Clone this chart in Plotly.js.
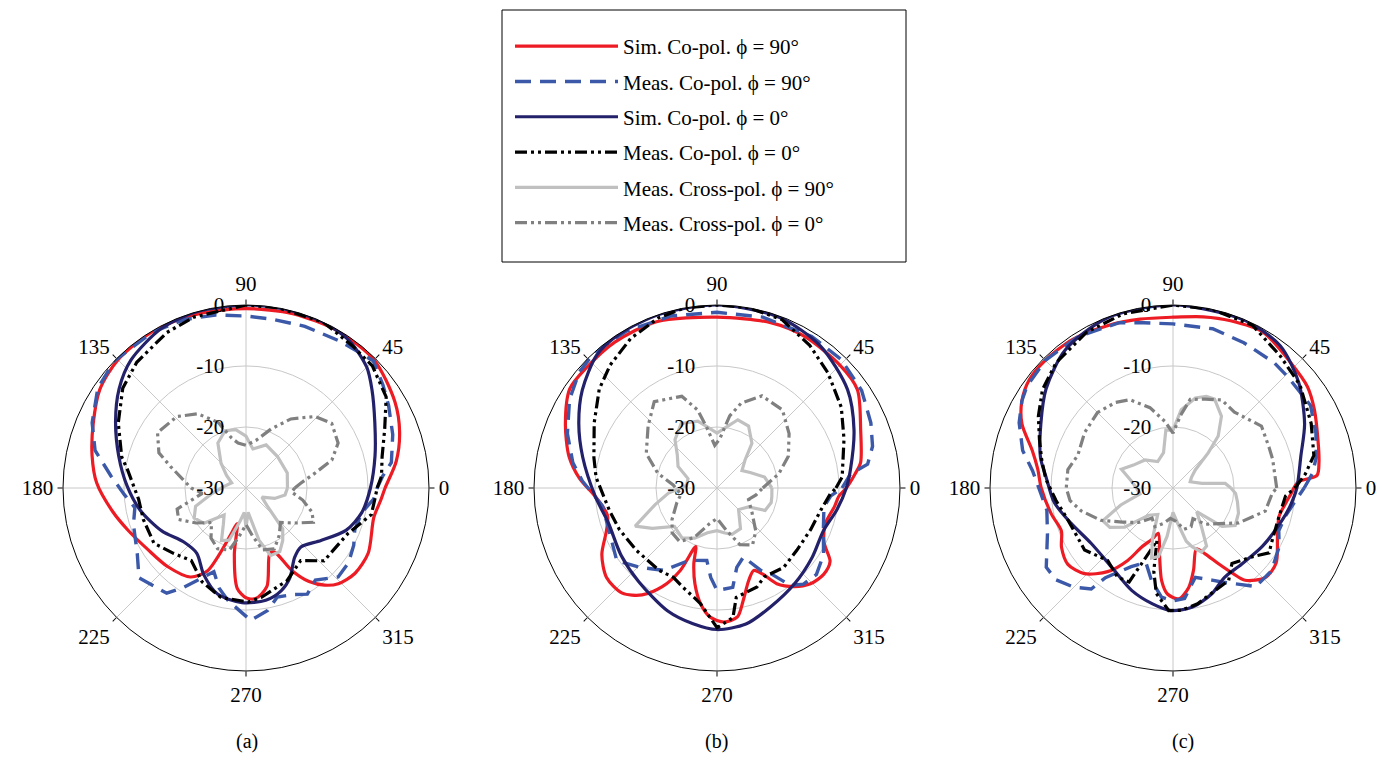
<!DOCTYPE html>
<html><head><meta charset="utf-8">
<script src="https://cdn.plot.ly/plotly-3.0.1.min.js"></script>
<style>html,body{margin:0;padding:0;background:#fff}#chart{width:1392px;height:764px}</style>
</head><body><div id="chart"></div>
<script>
// ---------- labels ----------
const SERIES_NAMES = ["Sim. Co-pol. \u03D5 = 90\u00B0", "Meas. Co-pol. \u03D5 = 90\u00B0", "Sim. Co-pol. \u03D5 = 0\u00B0",
  "Meas. Co-pol. \u03D5 = 0\u00B0", "Meas. Cross-pol. \u03D5 = 90\u00B0", "Meas. Cross-pol. \u03D5 = 0\u00B0"];
const PANEL_LABELS = ["(a)", "(b)", "(c)"];
const ANGLE_TICKS = [0, 45, 90, 135, 180, 225, 270, 315];
const ANGLE_LABELS = ["0", "45", "90", "135", "180", "225", "270", "315"];
const RADIAL_TICKS = [0, -10, -20, -30];
const RADIAL_LABELS = ["0", "-10", "-20", "-30"];

// ---------- panel (a) ----------
const A_S90_T = [0,10,20,30,45,60,75,90,105,120,135,146,157,168,178,190,200,212,225,238,245,252,256,260,265,270,275,282,290,294,299,304,309,314,322,332,347,355];
const A_S90_R = [-7.2,-5,-3.2,-1.8,-0.3,-0.2,-0.4,-0.6,-0.4,-0.1,-0.3,-1.1,-2.8,-4.2,-5.5,-7.8,-9.5,-11,-11.8,-12.8,-15,-22,-24,-19,-13.5,-12,-11.8,-13.5,-18.6,-18.5,-14.6,-11.5,-9.5,-8.2,-7.3,-7.3,-8.5,-7.8];
const A_M90_T = [0,5,10,20,30,37,45,57,70,81,90,100,110,121,136,146,157,166,175,183,190,198,211,220,233,238,249,255,261,272,280,286,293,300,307,316,324,332,339,348,355];
const A_M90_R = [-8.5,-7.5,-5.8,-4.4,-3.0,-1.9,-0.5,-1.4,-1.8,-2,-1.8,-1.2,-0.6,-0.2,0,-0.7,-2.6,-4.5,-7.8,-10,-11.5,-10.6,-9.2,-7.1,-8.4,-10.8,-15.3,-13,-11.3,-8.3,-9.6,-11.4,-11,-9.9,-11.1,-9,-9.2,-10,-10.9,-10.6,-9];
const A_S0_T = [0,14,27,38,45,55,65,78,90,106,118,132,142,153,166,179,192,207,221,233,244,255,268,280,289,296,305,313,325,337,348];
const A_S0_R = [-9.6,-8.2,-6.3,-3.8,-2.0,-0.5,0,0,0,0,-0.4,-1.8,-3.6,-6.0,-8.5,-10.5,-12.3,-14.5,-16.5,-16.6,-14.2,-12.0,-11.2,-11.3,-12.2,-13.6,-16.1,-16.8,-15,-12.2,-10.6];
const A_M0_T = [0,5,13,23,33,44,53,65,80,90,107,117,131,141,153,166,171,186,197,211,222,233,245,257,271,278,294,307,317,336,348,355];
const A_M0_R = [-8.5,-7.7,-7.1,-5.3,-2.6,-1.2,-0.9,0,0,0,-0.7,-1.4,-2.7,-4,-6.5,-9,-10.3,-12.3,-12.4,-12.4,-14,-15.1,-13,-11.6,-11.3,-11.9,-13.4,-15.1,-12.5,-11.7,-9,-8.8];
const A_X90_T = [0,20,45,65,80,90,100,110,122,135,147,160,175,189,200,210,220,231,238,245,252,260,266,270,275,284,290,298,305,312,320,330,340,350];
const A_X90_R = [-23.2,-22.8,-22.7,-22.2,-23.5,-21.5,-20.3,-20,-21.3,-24.2,-26.2,-27.5,-26.5,-24.4,-21.2,-20.2,-21,-24.3,-23,-20.5,-21,-24.5,-26,-23.5,-26,-21.2,-18.2,-18.2,-19.5,-21,-25.5,-27,-25,-23.5];
const A_X0_T = [0,5,12,18,26,37,46,57,67,78,90,100,106,113,123,134,148,158,164,172,180,187,197,205,215,225,235,245,255,262,270,278,285,295,305,315,325,333,340,348,355];
const A_X0_R = [-22,-21,-18.5,-15.2,-13.2,-12.4,-13.7,-16.5,-19.5,-22,-23,-22.5,-21.5,-18.3,-15.5,-13.7,-12.9,-14.6,-17.1,-19.5,-21,-22.8,-18.2,-17.8,-20,-22,-20,-19,-19.5,-22,-24,-22,-19.5,-19,-20.5,-22,-20,-17.6,-18.5,-20.5,-22.5];

// ---------- panel (b) ----------
const B_S90_T = [0,6,10,22,35,45,60,72,90,110,125,137,146,157,168,176,184,194,201,210,219,228,235,241,246,250,253,257,262,267,273,279,283,289,294,298,302,308,314,321,327,333,342,351,356];
const B_S90_R = [-8.8,-7.2,-6.1,-4.6,-1.9,-1.5,-1.3,-1.5,-2,-1,-0.8,-0.9,-0.9,-3,-5.2,-7.4,-10,-11.5,-10.6,-8.2,-6.7,-6.8,-8.6,-11.5,-15.2,-19.8,-17,-13.9,-10.8,-8.8,-8,-8.6,-11,-14,-15.2,-14,-11.5,-9.5,-8.1,-7.5,-7.9,-10.3,-11.3,-10.5,-10];
const B_M90_T = [0,6,9,15,23,34,46,58,75,90,105,120,132,140,149,160,170,177,189,203,216,226,237,249,262,266,270,279,284,291,298,302,307,312,319,328,338,350,356];
const B_M90_R = [-9.5,-8,-5,-3.6,-2.6,-1.4,-0.7,-0.7,-1,-1.2,-0.8,-0.3,0,-0.5,-1.8,-3.9,-6,-7.9,-11,-10.9,-9.7,-11.9,-13.9,-17.3,-18,-15.3,-13.2,-13.5,-16.6,-17.9,-14.7,-13.5,-10,-8.8,-8.4,-9.4,-11.2,-12.2,-11.3];
const B_S0_T = [0,8,23,37,54,70,90,108,122,132,144,155,167,184,198,215,230,248,260,270,282,294,309,324,338,350];
const B_S0_R = [-8.8,-7.9,-5.6,-3.2,-1.2,-0.2,0,0,-0.1,-0.6,-2.7,-5,-7.4,-10,-11.3,-10.8,-10,-8.3,-7.4,-6.8,-7.2,-8.6,-9.8,-10.7,-11.2,-10];
const B_M0_T = [0,5,21,33,46,57,69,80,90,100,109,120,131,140,152,166,175,192,203,218,235,244,251,258,262,270,277,280,292,298,310,322,336,348,357];
const B_M0_R = [-10.5,-9.4,-7.7,-5.7,-3.8,-2.1,-0.4,0,0,0,-0.5,-1.7,-3.3,-4.8,-7.2,-9.2,-10.1,-12,-12.6,-13.3,-13.5,-13.7,-12.8,-11.7,-10.8,-7.1,-8.6,-11.8,-12.5,-13.5,-13,-13.4,-13.2,-12.6,-11.4];
const B_X90_T = [0,13,25,35,45,52,63,73,82,90,98,106,119,131,140,151,162,175,186,195,205,212,222,235,246,258,270,280,288,300,315,329,335,345,351];
const B_X90_R = [-21,-22,-24,-25,-23.5,-20.7,-18.6,-18.3,-20,-21,-20,-18.6,-17.9,-19.5,-21.5,-22.7,-25,-25,-22,-19.5,-15.2,-17.5,-20.6,-20,-21,-22.5,-23,-22.5,-22,-22.3,-25,-24,-21.3,-20.8,-20.9];
const B_X0_T = [0,13,24,37,50,64,74,80,87,93,100,104,111,126,138,154,166,176,190,200,215,225,235,245,258,270,282,292,302,312,325,340,350];
const B_X0_R = [-22.5,-19.6,-17.2,-15.2,-13.3,-13.2,-15.5,-18,-22,-23,-19.7,-16.8,-13.9,-12.5,-14.8,-17.1,-20,-22.8,-24,-23,-21,-19.6,-19.3,-21,-24,-25,-23,-20,-19,-20.5,-23,-24.5,-23.5];

// ---------- panel (c) ----------
const C_S90_T = [0,3,5,10,18,29,37,47,60,71,80,90,101,112,124,135,143,150,157,165,172,180,192,201,208,216,224,232,238,242,248,252,259,263,267,273,279,284,291,296,301,305,308,316,324,335,345,352,358];
const C_S90_R = [-10.2,-9.3,-6.3,-5.7,-5,-3.5,-2.4,-1.8,-0.5,-1,-1.5,-2,-1.8,-1.3,-0.6,-0.4,-0.5,-1.4,-3.1,-6.1,-7.6,-8.4,-9.6,-10.4,-9.3,-8.7,-9.8,-12.6,-16,-19,-21,-22.2,-18.5,-14.7,-12.6,-11.8,-13.5,-16.1,-19.3,-18,-15.5,-12.9,-10.8,-8.9,-9.1,-11.1,-12,-11.4,-10.5];
const C_M90_T = [0,6,12,21,31,44,51,64,76,90,100,108,122,135,145,150,157,166,173,180,190,200,212,218,225,231,233,242,250,257,264,270,276,284,293,298,304,310,320,331,338,346,353];
const C_M90_R = [-8.5,-7,-6,-4.9,-3.7,-3.8,-3.6,-3.5,-3.1,-3.1,-2.5,-1.5,-0.7,-0.4,-0.8,-1.4,-2.6,-4.6,-6.8,-8,-9,-8.1,-5.5,-5.6,-7,-8.7,-11.6,-15.4,-17,-14.4,-12,-11.5,-11.8,-14.9,-13.6,-12.5,-11,-8.9,-8.9,-10.1,-11.3,-11,-10];
const C_S0_T = [0,14,26,40,53,67,90,111,128,142,154,167,175,187,199,214,232,248,260,269,279,290,300,312,327,344,352];
const C_S0_R = [-9.7,-8.4,-6,-3.1,-0.8,-0.1,0,-0.1,-1.3,-3.6,-5.9,-7.7,-9.1,-10.4,-12.3,-13.8,-13.6,-11.9,-10.7,-9.9,-10.2,-11.5,-13.1,-13.2,-12.5,-11.3,-10.5];
const C_M0_T = [0,6,13,25,39,51,64,78,90,106,119,133,143,152,160,168,176,186,197,215,228,238,245,250,253,257,261,268,274,282,292,301,308,319,326,332,345,356];
const C_M0_R = [-10,-8.2,-6.3,-5,-3.2,-2.1,-0.3,0,0,-0.3,-0.8,-1.9,-3.2,-5,-6.7,-8,-9.1,-10.7,-12,-12.3,-14,-12.8,-13,-19,-21,-16,-12.5,-9.9,-9.9,-10.6,-11.8,-12.3,-14.3,-12.8,-11,-11.6,-12,-11.5];
const C_X90_T = [0,5,9,20,30,39,45,49,56,65,70,76,84,90,97,105,120,135,150,160,170,180,190,198,205,212,219,228,240,248,253,258,263,270,278,284,288,294,300,306,315,322,329,339,348,355];
const C_X90_R = [-20.5,-21.4,-25.2,-27,-26.5,-25.3,-21.8,-18.7,-15.8,-13.9,-14,-14.8,-17.1,-20.5,-20.4,-24,-25,-23.5,-22.5,-21,-23,-24,-24.5,-21,-17.3,-17.8,-19.8,-24,-25,-21,-18,-18.5,-22,-26,-24,-21,-19.9,-18.5,-19,-22,-24.5,-19.8,-18.1,-18.5,-19.2,-19.7];
const C_X0_T = [0,16,23,35,51,61,70,79,84,90,97,106,116,124,135,148,161,170,180,187,194,204,214,225,235,245,255,265,275,285,295,303,312,322,332,346,357];
const C_X0_R = [-13,-13,-12.9,-12.3,-14,-13.5,-14.5,-15.2,-18,-21,-19,-16.3,-13.9,-13.1,-12.5,-12.9,-13.5,-12.5,-12.5,-13,-14.5,-17,-20,-22,-24,-23,-24,-25,-24.5,-23,-23,-24,-22,-20.5,-17.8,-14.4,-13.7];

// ---------- styling ----------
const FONT = "Liberation Serif, Times New Roman, serif";
const STYLES = [
  {color: "rgb(237,28,36)",  dash: "solid", width: 3.2, shape: "spline"},
  {color: "rgb(59,89,168)",  dash: "16px,9px", width: 3.4, shape: "linear"},
  {color: "rgb(36,33,107)",  dash: "solid", width: 3.2, shape: "spline"},
  {color: "rgb(0,0,0)",      dash: "12px,4px,3px,4px,3px,4px", width: 3.2, shape: "linear"},
  {color: "rgb(192,192,192)",dash: "solid", width: 3.2, shape: "linear"},
  {color: "rgb(128,128,128)",dash: "12px,4px,3px,4px,3px,4px", width: 3.2, shape: "linear"}
];
const DRAW_ORDER = [0, 1, 2, 3, 4, 5];

const PANELS = [
  {key: "polar",  data: [[A_S90_T,A_S90_R],[A_M90_T,A_M90_R],[A_S0_T,A_S0_R],[A_M0_T,A_M0_R],[A_X90_T,A_X90_R],[A_X0_T,A_X0_R]]},
  {key: "polar2", data: [[B_S90_T,B_S90_R],[B_M90_T,B_M90_R],[B_S0_T,B_S0_R],[B_M0_T,B_M0_R],[B_X90_T,B_X90_R],[B_X0_T,B_X0_R]]},
  {key: "polar3", data: [[C_S90_T,C_S90_R],[C_M90_T,C_M90_R],[C_S0_T,C_S0_R],[C_M0_T,C_M0_R],[C_X90_T,C_X90_R],[C_X0_T,C_X0_R]]}
];

const W = 1392, H = 764;
const CENTERS = [[246, 488], [717, 488], [1173, 488]];
const RAD = 183;

const traces = [];
PANELS.forEach((p, pi) => {
  DRAW_ORDER.forEach(si => {
    const th = p.data[si][0].concat([p.data[si][0][0] + 360]);
    const rr = p.data[si][1].concat([p.data[si][1][0]]);
    const st = STYLES[si];
    traces.push({
      type: "scatterpolar", mode: "lines", subplot: p.key,
      theta: th, r: rr, name: SERIES_NAMES[si],
      legendgroup: "g" + si, showlegend: pi === 0,
      line: {color: st.color, dash: st.dash, width: st.width, shape: st.shape, smoothing: 0.8},
      hoverinfo: "skip"
    });
  });
});

function polarLayout(ci) {
  const [cx, cy] = CENTERS[ci];
  return {
    domain: {x: [(cx - RAD) / W, (cx + RAD) / W], y: [(H - cy - RAD) / H, (H - cy + RAD) / H]},
    bgcolor: "rgba(0,0,0,0)",
    angularaxis: {
      rotation: 0, direction: "counterclockwise",
      tickmode: "array", tickvals: ANGLE_TICKS, ticktext: ANGLE_LABELS,
      showgrid: true, gridcolor: "rgb(200,200,200)", gridwidth: 1,
      showline: true, linecolor: "#000", linewidth: 1,
      ticks: "outside", ticklen: 5, tickcolor: "#000",
      tickfont: {family: FONT, size: 21, color: "#000"}
    },
    radialaxis: {
      range: [-30, 0], angle: 90, side: "counterclockwise",
      tickmode: "array", tickvals: RADIAL_TICKS, ticktext: RADIAL_LABELS,
      showgrid: true, gridcolor: "rgb(200,200,200)", gridwidth: 1,
      showline: false, ticks: "outside", ticklen: 14, tickcolor: "rgba(0,0,0,0)", tickangle: 90,
      tickfont: {family: FONT, size: 21, color: "#000"}
    }
  };
}

const layout = {
  width: W, height: H,
  margin: {l: 0, r: 0, t: 0, b: 0},
  paper_bgcolor: "#fff",
  font: {family: FONT, color: "#000"},
  polar: polarLayout(0), polar2: polarLayout(1), polar3: polarLayout(2),
  showlegend: true,
  legend: {
    x: 510 / W, y: 1 - 26 / H, xanchor: "left", yanchor: "top",
    bgcolor: "rgba(0,0,0,0)", borderwidth: 0,
    font: {family: FONT, size: 21, color: "#000"},
    itemwidth: 103, tracegroupgap: 5, traceorder: "grouped",
    itemclick: false, itemdoubleclick: false
  },
  shapes: [{
    type: "rect", xref: "paper", yref: "paper", layer: "below",
    x0: 502 / W, x1: 906 / W, y0: 1 - 262 / H, y1: 1 - 10 / H,
    line: {color: "#000", width: 1}, fillcolor: "#fff"
  }],
  annotations: PANEL_LABELS.map((t, i) => ({
    text: t, x: [247, 716, 1183][i] / W, y: 1 - 741 / H, xref: "paper", yref: "paper",
    xanchor: "center", yanchor: "middle",
    showarrow: false, font: {family: FONT, size: 20, color: "#000"}
  }))
};

Plotly.newPlot("chart", traces, layout, {staticPlot: true, displayModeBar: false});
</script>
</body></html>
